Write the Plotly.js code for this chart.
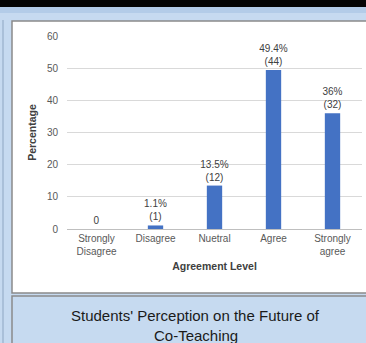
<!DOCTYPE html>
<html>
<head>
<meta charset="utf-8">
<script src="https://cdn.plot.ly/plotly-3.0.1.min.js"></script>
<style>
  html, body { margin: 0; padding: 0; background: #c6daf0; }
  #chart { width: 366px; height: 343px; }
</style>
</head>
<body>
<div id="chart"></div>
<script>
// ---- data ----
const categories = ["Strongly<br>Disagree", "Disagree", "Nuetral", "Agree", "Strongly<br>agree"];
const percentages = [0, 1.1, 13.5, 49.4, 36];
const counts = [0, 1, 12, 44, 32];
const yTickValues = [0, 10, 20, 30, 40, 50, 60];
const chartTitleLine1 = "Students' Perception on the Future of";
const chartTitleLine2 = "Co-Teaching";
const xTitle = "Agreement Level";
const yTitle = "Percentage";

const labels = percentages.map((p, i) => p === 0 ? "0" : p + "%<br>(" + counts[i] + ")");

// ---- layout helpers (pixel -> paper fraction, margins are zero) ----
const W = 366, H = 343;
const px = x => x / W;
const py = y => 1 - y / H;

const FONT = "Liberation Sans, Arial, sans-serif";
const LIGHT = "#c6daf0";

const trace = {
  type: "bar",
  x: categories,
  y: percentages,
  text: labels,
  textposition: "outside",
  constraintext: "none",
  cliponaxis: false,
  textfont: { family: FONT, size: 10, color: "#404040" },
  marker: { color: "#4472c4" },
  width: 0.26,
  hoverinfo: "skip"
};

const shapes = [
  // top dark bar
  { type: "rect", xref: "paper", yref: "paper", x0: 0, x1: 1, y0: py(7), y1: 1, fillcolor: "#050505", line: { width: 0 }, layer: "below" },
  { type: "rect", xref: "paper", yref: "paper", x0: 0, x1: 1, y0: py(13), y1: py(7), fillcolor: "#b3cce8", line: { width: 0 }, layer: "below" },
  // left thin line in the outer strip
  { type: "line", xref: "paper", yref: "paper", x0: px(3), x1: px(3), y0: 0, y1: py(20), line: { color: "#8ea6c2", width: 1 }, layer: "below" },
  // white chart panel
  { type: "rect", xref: "paper", yref: "paper", x0: px(12), x1: px(370), y0: py(293), y1: py(21), fillcolor: "#ffffff", line: { color: "#8a8a8a", width: 1.5 }, layer: "below" },
  // bottom title panel
  { type: "rect", xref: "paper", yref: "paper", x0: px(12), x1: px(370), y0: py(350), y1: py(296), fillcolor: LIGHT, line: { color: "#8a8a8a", width: 1.5 }, layer: "below" }
];

const layout = {
  width: W,
  height: H,
  margin: { l: 0, r: 0, t: 0, b: 0 },
  paper_bgcolor: LIGHT,
  plot_bgcolor: "rgba(0,0,0,0)",
  showlegend: false,
  font: { family: FONT, color: "#595959" },
  title: {
    text: chartTitleLine1,
    font: { family: FONT, size: 15, color: "#1a1a1a" },
    x: 195 / W, xanchor: "center", xref: "paper",
    y: py(316), yanchor: "middle", yref: "paper"
  },
  annotations: [
    { text: chartTitleLine2, xref: "paper", yref: "paper", x: 196 / W, y: py(335), xanchor: "center", yanchor: "middle",
      showarrow: false, font: { family: FONT, size: 15, color: "#1a1a1a" } }
  ],
  xaxis: {
    domain: [px(67), px(362)],
    type: "category",
    showgrid: false,
    showline: true,
    linecolor: "#bfbfbf",
    linewidth: 1,
    ticks: "",
    tickfont: { family: FONT, size: 10, color: "#595959" },
    title: { text: xTitle, font: { family: FONT, size: 10.5, color: "#404040", weight: "bold" }, standoff: 6 }
  },
  yaxis: {
    domain: [py(229), py(36)],
    range: [0, 60],
    tickvals: yTickValues,
    showgrid: true,
    gridcolor: "#d9d9d9",
    gridwidth: 1,
    zeroline: false,
    showline: false,
    ticks: "",
    ticklabelstandoff: 8,
    tickfont: { family: FONT, size: 10, color: "#595959" },
    title: { text: yTitle, font: { family: FONT, size: 10.5, color: "#404040", weight: "bold" }, standoff: 8 }
  },
  shapes: shapes
};

Plotly.newPlot("chart", [trace], layout, { displayModeBar: false, staticPlot: true });
</script>
</body>
</html>
